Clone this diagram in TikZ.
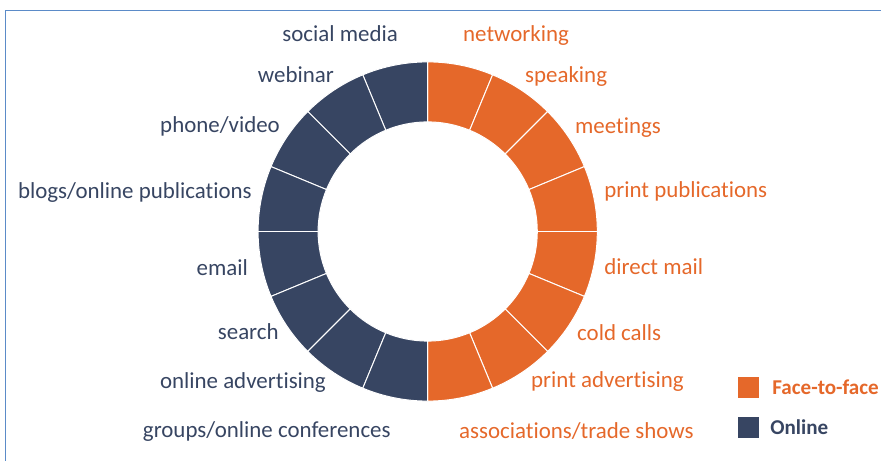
\documentclass[tikz,border=0pt]{standalone}
\usepackage{fontspec}
\setmainfont{Carlito}[Ligatures=NoCommon]

\definecolor{arancio}{HTML}{E5682A}
\definecolor{blunotte}{HTML}{374562}
\definecolor{cornice}{HTML}{5B8BC8}

\begin{document}
\begin{tikzpicture}[
	spicchio/.style={draw=white, line width=0.7pt},
	etichetta/.style={font=\fontsize{16.3}{19}\selectfont, text height=1.5ex, text depth=0.5ex, inner sep=0pt},
	voce/.style={font=\bfseries\fontsize{15}{18}\selectfont, text height=1.5ex, text depth=0.5ex, inner sep=0pt},
	quadrato/.style={minimum width=0.52cm, minimum height=0.52cm, inner sep=0pt}]
		
		\useasboundingbox (-10.6925,-5.7375) rectangle (11.3325,5.7875);
		
		%Disegno la cornice
		\draw[cornice, line width=1.3pt] (-10.555,-5.7375) -- (-10.555,5.525) -- (11.3325,5.525);
		
		%Disegno gli spicchi arancioni
		\draw[spicchio, fill=arancio] (90:4.24) arc (90:67.5:4.24) -- (67.5:2.74) arc (67.5:90:2.74) -- cycle;
		\draw[spicchio, fill=arancio] (67.5:4.24) arc (67.5:45:4.24) -- (45:2.74) arc (45:67.5:2.74) -- cycle;
		\draw[spicchio, fill=arancio] (45:4.24) arc (45:22.5:4.24) -- (22.5:2.74) arc (22.5:45:2.74) -- cycle;
		\draw[spicchio, fill=arancio] (22.5:4.24) arc (22.5:0:4.24) -- (0:2.74) arc (0:22.5:2.74) -- cycle;
		\draw[spicchio, fill=arancio] (0:4.24) arc (0:-22.5:4.24) -- (-22.5:2.74) arc (-22.5:0:2.74) -- cycle;
		\draw[spicchio, fill=arancio] (-22.5:4.24) arc (-22.5:-45:4.24) -- (-45:2.74) arc (-45:-22.5:2.74) -- cycle;
		\draw[spicchio, fill=arancio] (-45:4.24) arc (-45:-67.5:4.24) -- (-67.5:2.74) arc (-67.5:-45:2.74) -- cycle;
		\draw[spicchio, fill=arancio] (-67.5:4.24) arc (-67.5:-90:4.24) -- (-90:2.74) arc (-90:-67.5:2.74) -- cycle;
		
		%Disegno gli spicchi blu
		\draw[spicchio, fill=blunotte] (90:4.24) arc (90:112.5:4.24) -- (112.5:2.74) arc (112.5:90:2.74) -- cycle;
		\draw[spicchio, fill=blunotte] (112.5:4.24) arc (112.5:135:4.24) -- (135:2.74) arc (135:112.5:2.74) -- cycle;
		\draw[spicchio, fill=blunotte] (135:4.24) arc (135:157.5:4.24) -- (157.5:2.74) arc (157.5:135:2.74) -- cycle;
		\draw[spicchio, fill=blunotte] (157.5:4.24) arc (157.5:180:4.24) -- (180:2.74) arc (180:157.5:2.74) -- cycle;
		\draw[spicchio, fill=blunotte] (180:4.24) arc (180:202.5:4.24) -- (202.5:2.74) arc (202.5:180:2.74) -- cycle;
		\draw[spicchio, fill=blunotte] (202.5:4.24) arc (202.5:225:4.24) -- (225:2.74) arc (225:202.5:2.74) -- cycle;
		\draw[spicchio, fill=blunotte] (225:4.24) arc (225:247.5:4.24) -- (247.5:2.74) arc (247.5:225:2.74) -- cycle;
		\draw[spicchio, fill=blunotte] (247.5:4.24) arc (247.5:270:4.24) -- (270:2.74) arc (270:247.5:2.74) -- cycle;
		
		%Disegno le etichette di destra
		\node (networking) at (0.88,4.84) [etichetta, anchor=west, text=arancio]{networking};
		\node (speaking) at (2.43,3.81) [etichetta, anchor=west, text=arancio]{speaking};
		\node (meetings) at (3.68,2.54) [etichetta, anchor=west, text=arancio]{meetings};
		\node (printPub) at (4.41,0.94) [etichetta, anchor=west, text=arancio]{print publications};
		\node (directMail) at (4.41,-0.99) [etichetta, anchor=west, text=arancio]{direct mail};
		\node (coldCalls) at (3.73,-2.64) [etichetta, anchor=west, text=arancio]{cold calls};
		\node (printAdv) at (2.58,-3.81) [etichetta, anchor=west, text=arancio]{print advertising};
		\node (tradeShows) at (0.78,-5.09) [etichetta, anchor=west, text=arancio]{associations/trade shows};
		
		%Disegno le etichette di sinistra
		\node (socialMedia) at (-0.74,4.84) [etichetta, anchor=east, text=blunotte]{social media};
		\node (webinar) at (-2.34,3.81) [etichetta, anchor=east, text=blunotte]{webinar};
		\node (phoneVideo) at (-3.69,2.56) [etichetta, anchor=east, text=blunotte]{phone/video};
		\node (blogs) at (-4.39,0.91) [etichetta, anchor=east, text=blunotte]{blogs/online publications};
		\node (email) at (-4.49,-1.01) [etichetta, anchor=east, text=blunotte]{email};
		\node (search) at (-3.72,-2.61) [etichetta, anchor=east, text=blunotte]{search};
		\node (onlineAdv) at (-2.54,-3.83) [etichetta, anchor=east, text=blunotte]{online advertising};
		\node (groups) at (-0.92,-5.06) [etichetta, anchor=east, text=blunotte]{groups/online conferences};
		
		%Disegno la legenda
		\node (quadratoFaccia) at (8.02,-3.91) [quadrato, fill=arancio]{};
		\node (quadratoOnline) at (8.02,-4.9) [quadrato, fill=blunotte]{};
		\node (faccia) at (8.61,-4.0) [voce, anchor=west, text=arancio]{Face-to-face};
		\node (online) at (8.56,-4.99) [voce, anchor=west, text=blunotte]{Online};
		
		\end{tikzpicture}
\end{document}
